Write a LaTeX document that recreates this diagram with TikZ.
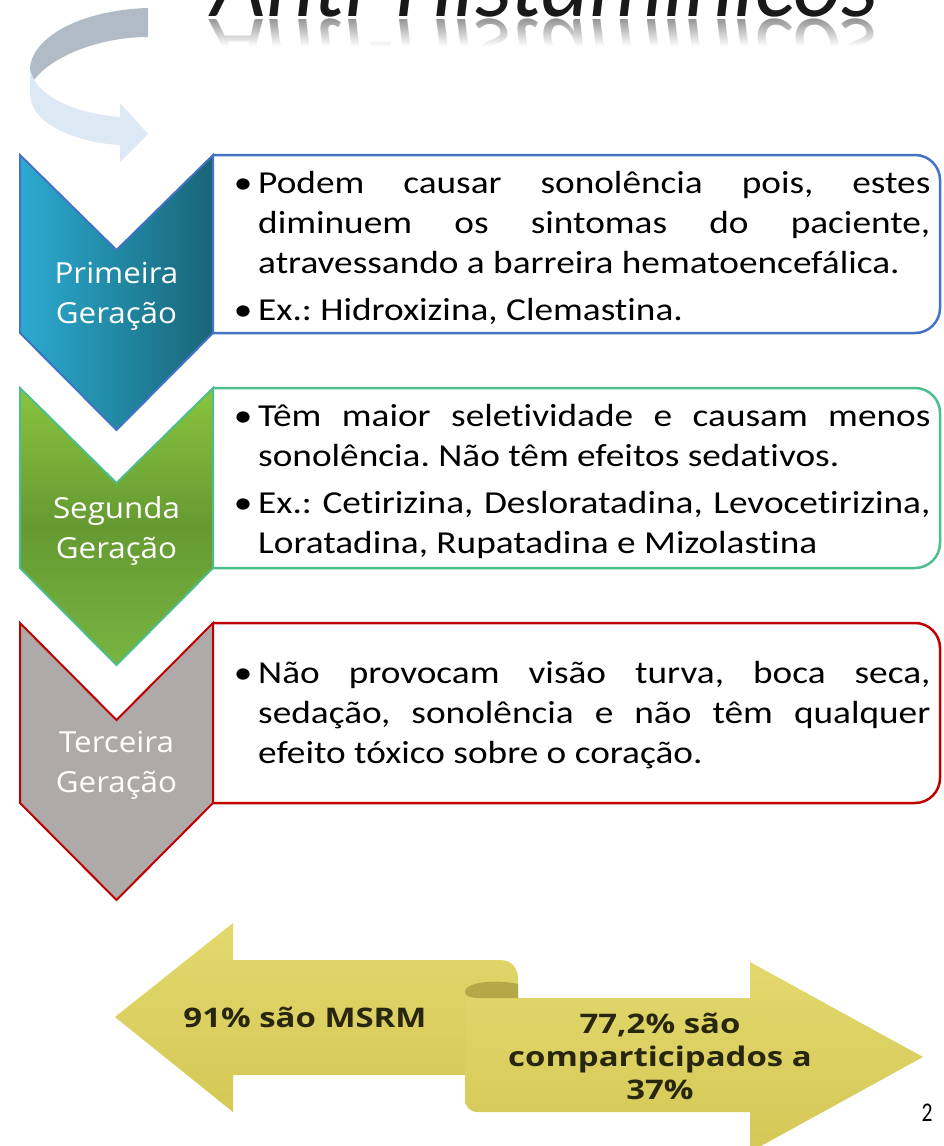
\documentclass[tikz,border=0pt]{standalone}
\usepackage{fontspec}
\setmainfont{Carlito}[RawFeature={-liga}]
\newfontfamily\osans{Open Sans}
\usetikzlibrary{fadings}
\definecolor{bluel}{RGB}{44,170,208}
\definecolor{bluem}{RGB}{33,137,165}
\definecolor{bluer}{RGB}{26,100,120}
\definecolor{blueline}{RGB}{68,114,196}
\definecolor{greent}{RGB}{138,196,62}
\definecolor{greenm}{RGB}{101,154,50}
\definecolor{greenb}{RGB}{120,180,64}
\definecolor{greenline}{RGB}{76,190,142}
\definecolor{greyfill}{RGB}{174,170,169}
\definecolor{redline}{RGB}{192,0,0}
\definecolor{ribbongrey}{RGB}{177,187,197}
\definecolor{ribbonlight}{RGB}{221,232,245}
\definecolor{yelt}{RGB}{226,216,108}
\definecolor{yelb}{RGB}{212,200,86}
\definecolor{yeldark}{RGB}{180,168,72}
\definecolor{olivetext}{RGB}{40,38,15}
\definecolor{reflgrey}{RGB}{150,150,150}
\tikzset{
  chev/.style={line width=2pt, line join=miter},
  infobox/.style={line width=2.5pt, fill=white, rounded corners=25pt},
  boxtext/.style={anchor=west, inner sep=0pt, text width=577pt, align=justify,
    xscale=1.165, font=\fontsize{32}{40}\selectfont},
  chevlabel/.style={text=white, align=center, inner sep=0pt, xscale=1.08,
    font=\osans\fontsize{29}{40}\selectfont},
  arrowtext/.style={text=olivetext, align=center, inner sep=0pt, xscale=1.22,
    font=\osans\bfseries\fontsize{27}{33}\selectfont},
}
\newcommand{\bitem}{\par\noindent\llap{\textbullet\hspace{5pt}}}
\begin{document}
\begin{tikzpicture}[x=1pt,y=-1pt]
\useasboundingbox (0,0) rectangle (943,1146);
\fill[white] (0,0) rectangle (943,1146);

% title (cut by the top edge) and its reflection
\node[anchor=base, inner sep=0pt, font=\fontsize{94}{94}\selectfont\itshape, text=black!90] (title) at (545,16) {Anti-Histamínicos};
\node[anchor=base, inner sep=0pt, yscale=-1, font=\fontsize{94}{94}\selectfont\itshape, text=reflgrey] (titlerefl) at (545,19) {Anti-Histamínicos};
\fill[white, path fading=north] (185,19) rectangle (905,46);
\fill[white] (185,46) rectangle (905,140);

% curved ribbon arrow
\fill[ribbongrey] (148,8) .. controls (80,10) and (30,38) .. (30,70) -- (34,80)
  .. controls (52,56) and (100,37) .. (148,37) -- cycle;
\fill[ribbonlight] (30,70) -- (30,95) .. controls (32,126) and (80,143) .. (120,145)
  -- (120,162) -- (148,134) -- (120,103) -- (120,117)
  .. controls (80,114) and (46,100) .. (34,80) -- cycle;

% boxes
\filldraw[infobox, draw=blueline] (213,155) -- (940,155) -- (940,333) -- (213,333);
\filldraw[infobox, draw=greenline] (213,388) -- (940,388) -- (940,568) -- (213,568);
\filldraw[infobox, draw=redline] (213,623) -- (940,623) -- (940,803) -- (213,803);

% chevrons
\path[chev, draw=blueline, left color=bluel, right color=bluer, middle color=bluem]
  (20,155) -- (116.5,250) -- (213,155) -- (213,333) -- (116.5,430) -- (20,333) -- cycle;
\path[chev, draw=greenline, top color=greent, bottom color=greenb, middle color=greenm]
  (20,388) -- (116.5,483) -- (213,388) -- (213,568) -- (116.5,665) -- (20,568) -- cycle;
\path[chev, draw=redline, fill=greyfill]
  (20,623) -- (116.5,720) -- (213,623) -- (213,803) -- (116.5,900) -- (20,803) -- cycle;

\node[chevlabel] (lab1) at (116.5,296) {Primeira\\Geração};
\node[chevlabel] (lab2) at (116.5,531) {Segunda\\Geração};
\node[chevlabel] (lab3) at (116.5,765) {Terceira\\Geração};

% box texts
\node[boxtext] (txt1) at (258,236) {\frenchspacing\tolerance=10000\setlength{\parskip}{7pt}%
\bitem Podem causar sonolência pois, estes\linebreak diminuem os sintomas do paciente,\linebreak atravessando a barreira hematoencefálica.
\bitem Ex.: Hidroxizina, Clemastina.\par};
\node[boxtext] (txt2) at (258,469) {\frenchspacing\tolerance=10000\setlength{\parskip}{7pt}%
\bitem Têm maior seletividade e causam menos\linebreak sonolência. Não têm efeitos sedativos.
\bitem Ex.: Cetirizina, Desloratadina, Levocetirizina,\linebreak Loratadina, Rupatadina e Mizolastina\par};
\node[boxtext] (txt3) at (258,703) {\frenchspacing\tolerance=10000\setlength{\parskip}{7pt}%
\bitem Não provocam visão turva, boca seca,\linebreak sedação, sonolência e não têm qualquer\linebreak efeito tóxico sobre o coração.\par};

% bottom double arrow
\path[top color=yelt, bottom color=yelb]
  (115,1017) -- (233,923) -- (233,960) -- (500,960)
  .. controls (512,960) and (518,968) .. (518,980) -- (518,1075)
  -- (233,1075) -- (233,1112) -- cycle;
\path[top color=yelt, bottom color=yelb]
  (518,998) -- (750,998) -- (750,962) -- (923,1057) -- (750,1152) -- (750,1112)
  -- (478,1112) .. controls (470,1112) and (465,1107) .. (465,1099) -- (465,992)
  -- cycle;
\fill[yeldark] (465,992) .. controls (465,982) and (495,979) .. (518,984) -- (518,998)
  -- (480,998) .. controls (470,998) and (465,996) .. (465,992) -- cycle;

\node[arrowtext] (msrm) at (305,1017) {91\% são MSRM};
\node[arrowtext] (compart) at (660,1056) {77,2\% são\\comparticipados a\\37\%};

\node[inner sep=0pt, xscale=0.8, font=\fontsize{27}{27}\selectfont] (pagenum) at (927,1113) {2};
\end{tikzpicture}
\end{document}
